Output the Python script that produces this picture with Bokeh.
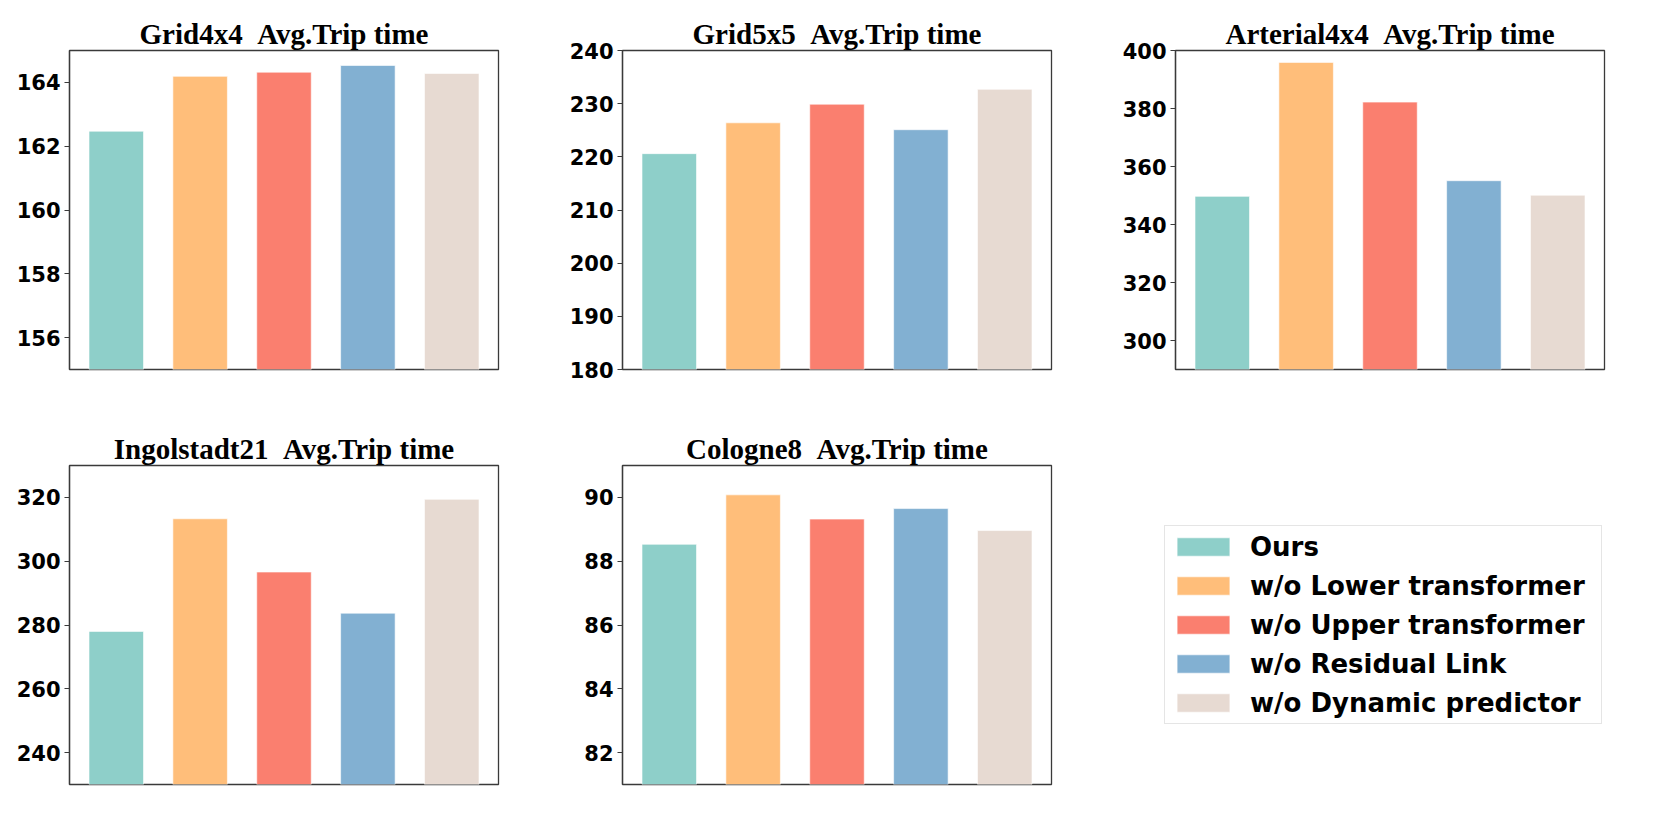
from bokeh.plotting import figure
from bokeh.layouts import column, row
from bokeh.models import Range1d, FixedTicker, Legend, LegendItem, ColumnDataSource
from bokeh.embed import file_html
from bokeh.resources import INLINE

methods = ["Ours", "w/o Lower transformer", "w/o Upper transformer",
           "w/o Residual Link", "w/o Dynamic predictor"]
colors = ["#8ECFC9", "#FFBE7A", "#FA7F6F", "#82B0D2", "#E7DAD2"]
positions = [0, 1, 2, 3, 4]

grid4x4 = [162.47, 164.19, 164.32, 164.53, 164.28]
grid5x5 = [220.6, 226.4, 229.9, 225.1, 232.7]
arterial4x4 = [349.7, 395.9, 382.2, 355.1, 350.1]
ingolstadt21 = [278.0, 313.3, 296.6, 283.7, 319.4]
cologne8 = [88.53, 90.08, 89.32, 89.65, 88.96]

titles = ["Grid4x4 \u00a0Avg.Trip time", "Grid5x5 \u00a0Avg.Trip time",
          "Arterial4x4 \u00a0Avg.Trip time", "Ingolstadt21 \u00a0Avg.Trip time",
          "Cologne8 \u00a0Avg.Trip time"]
series = [grid4x4, grid5x5, arterial4x4, ingolstadt21, cologne8]
ylims = [(155, 165), (180, 240), (290, 400), (230, 330), (81, 91)]
yticks = [[156, 158, 160, 162, 164],
          [180, 190, 200, 210, 220, 230, 240],
          [300, 320, 340, 360, 380, 400],
          [240, 260, 280, 300, 320],
          [82, 84, 86, 88, 90]]

BAR_W = 0.65
X_PAD = 0.5575
FRAME_W = 429
FRAME_H = 319
BL = 69
BT = 50
PITCH_X = 553
PITCH_Y = 415
EDGE = "#3a3a3a"


def make_panel(i, width, height, bb):
    p = figure(width=width, height=height, output_backend="svg",
               toolbar_location=None, tools="",
               x_range=Range1d(-X_PAD, 4 + X_PAD),
               y_range=Range1d(*ylims[i]),
               min_border_left=BL, min_border_right=width - BL - FRAME_W,
               min_border_top=BT, min_border_bottom=bb)
    src = ColumnDataSource(dict(x=positions, top=series[i], color=colors,
                                bottom=[0] * 5))
    p.vbar(x="x", top="top", bottom="bottom", width=BAR_W, source=src,
           fill_color="color", line_color="white", line_alpha=0.6, line_width=1)
    p.title.text = titles[i]
    p.title.align = "center"
    p.title.text_font = "Liberation Serif"
    p.title.text_font_style = "bold"
    p.title.text_font_size = "29px"
    p.title.text_color = "black"
    p.title.standoff = 1
    p.xaxis.visible = False
    p.xgrid.visible = False
    p.ygrid.visible = False
    ax = p.yaxis[0]
    ax.ticker = FixedTicker(ticks=yticks[i])
    ax.minor_tick_line_color = None
    ax.major_tick_in = 0
    ax.major_tick_out = 5
    ax.major_tick_line_color = EDGE
    ax.major_tick_line_width = 1.2
    ax.axis_line_color = EDGE
    ax.axis_line_width = 1.3
    ax.major_label_text_font = "DejaVu Sans"
    ax.major_label_text_font_style = "bold"
    ax.major_label_text_font_size = "21px"
    ax.major_label_text_color = "black"
    ax.major_label_standoff = 4
    p.outline_line_color = EDGE
    p.outline_line_width = 1.3
    p.background_fill_color = "white"
    p.border_fill_color = "white"
    return p


W1 = PITCH_X
W3 = BL + FRAME_W + 10
H1 = PITCH_Y
BB1 = PITCH_Y - BT - FRAME_H
H2 = BT + FRAME_H + 10

p1 = make_panel(0, W1, H1, BB1)
p2 = make_panel(1, W1, H1, BB1)
p3 = make_panel(2, W3, H1, BB1)
p4 = make_panel(3, W1, H2, 10)
p5 = make_panel(4, W1, H2, 10)

# legend panel: swatches come from a bar renderer kept outside the visible range
p6 = figure(width=W3, height=H2, output_backend="svg", toolbar_location=None,
            tools="", x_range=Range1d(-20, -19), y_range=Range1d(0, 1),
            min_border=0)
p6.axis.visible = False
p6.grid.visible = False
p6.outline_line_color = None
src6 = ColumnDataSource(dict(x=positions, top=grid4x4, color=colors))
r6 = p6.vbar(x="x", top="top", width=BAR_W, source=src6,
             fill_color="color", line_color="white", line_alpha=0.6)
items = [LegendItem(label=m, renderers=[r6], index=i) for i, m in enumerate(methods)]
leg = Legend(items=items, location=(58, 60))
leg.label_text_font = "DejaVu Sans"
leg.label_text_font_style = "bold"
leg.label_text_font_size = "26px"
leg.label_text_color = "black"
leg.glyph_width = 66
leg.glyph_height = 23
leg.label_height = 31
leg.label_width = 346
leg.label_standoff = 14
leg.spacing = 8
leg.padding = 5
leg.margin = 0
leg.border_line_color = "#cccccc"
leg.border_line_width = 1.2
leg.background_fill_alpha = 1
p6.add_layout(leg, "center")

layout = column(row(p1, p2, p3), row(p4, p5, p6))
open("out.html", "w").write(file_html(layout, INLINE))
